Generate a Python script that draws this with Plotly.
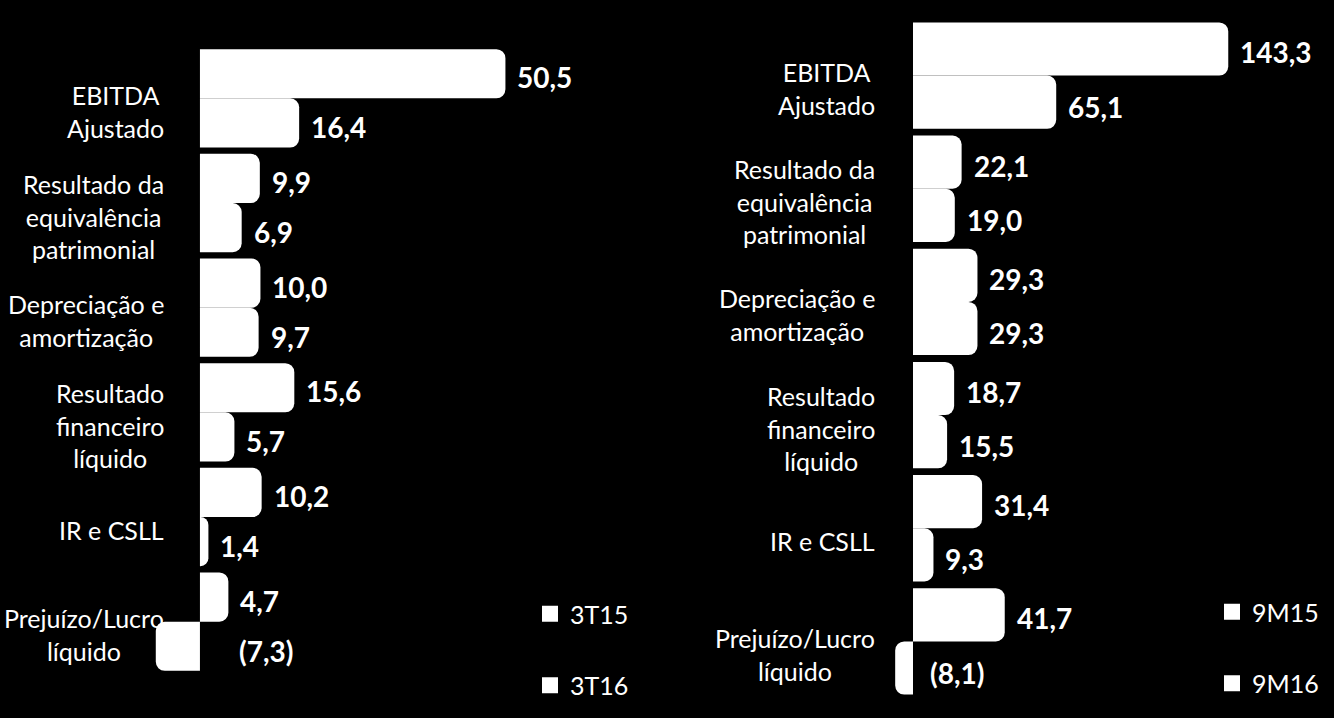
import plotly.graph_objects as go

# ---- data ----
categories_left = ["EBITDA<br>Ajustado", "Resultado da<br>equivalência<br>patrimonial",
                   "Depreciação e<br>amortização", "Resultado<br>financeiro<br>líquido",
                   "IR e CSLL", "Prejuízo/Lucro<br>líquido"]
categories_right = categories_left
cat_ids = ["EBITDA", "REP", "DA", "RF", "IR", "PL"]

series_left_names = ["3T15", "3T16"]
left_3t15 = [50.5, 9.9, 10.0, 15.6, 10.2, 4.7]
left_3t16 = [16.4, 6.9, 9.7, 5.7, 1.4, -7.3]

series_right_names = ["9M15", "9M16"]
right_9m15 = [143.3, 22.1, 29.3, 18.7, 31.4, 41.7]
right_9m16 = [65.1, 19.0, 29.3, 15.5, 9.3, -8.1]

W, H = 1334, 718
FONT = "Lato"


def fmt(v):
    s = f"{abs(v):.1f}".replace(".", ",")
    return f"({s})" if v < 0 else s


def px_x(p):
    return p / W


def px_y(p):
    return (H - p) / H


fig = go.Figure()

bar_style = dict(orientation="h", showlegend=False,
                 marker=dict(color="white", cornerradius=9, line=dict(width=0)))

fig.add_trace(go.Bar(x=left_3t15, y=cat_ids, name=series_left_names[0], xaxis="x", yaxis="y", **bar_style))
fig.add_trace(go.Bar(x=left_3t16, y=cat_ids, name=series_left_names[1], xaxis="x", yaxis="y", **bar_style))
fig.add_trace(go.Bar(x=right_9m15, y=cat_ids, name=series_right_names[0], xaxis="x2", yaxis="y2", **bar_style))
fig.add_trace(go.Bar(x=right_9m16, y=cat_ids, name=series_right_names[1], xaxis="x2", yaxis="y2", **bar_style))

# legend entries (square white markers)
for name, lg, grp, xa, ya in [(series_left_names[0], "legend", "a", "x", "y"),
                              (series_left_names[1], "legend", "b", "x", "y"),
                              (series_right_names[0], "legend2", "c", "x2", "y2"),
                              (series_right_names[1], "legend2", "d", "x2", "y2")]:
    fig.add_trace(go.Scatter(x=[None], y=[None], mode="markers", name=name, legend=lg, legendgroup=grp,
                             xaxis=xa, yaxis=ya, showlegend=True,
                             marker=dict(symbol="square", size=16, color="white", line=dict(width=0))))

annotations = []
# value labels
for xref, yref, s1, s2, negshift in [("x", "y", left_3t15, left_3t16, 37),
                                     ("x2", "y2", right_9m15, right_9m16, 15)]:
    for i, c in enumerate(cat_ids):
        for v, off in [(s1[i], -0.24), (s2[i], 0.24)]:
            annotations.append(dict(
                x=max(v, 0), y=i + off, xref=xref, yref=yref, text=fmt(v),
                xanchor="left", yanchor="middle", xshift=10 if v >= 0 else negshift, yshift=-4,
                showarrow=False, font=dict(family=FONT, size=28, color="white", weight="bold")))

# category labels
for yref, xpix, labels in [("y", 166, categories_left), ("y2", 877, categories_right)]:
    for i, lab in enumerate(labels):
        annotations.append(dict(
            x=px_x(xpix), y=i, xref="paper", yref=yref, text=lab, xanchor="right",
            yanchor="middle", align="center", yshift=-13, showarrow=False,
            font=dict(family=FONT, size=25, color="white")))

axis_common = dict(showgrid=False, zeroline=False, showticklabels=False, showline=False, ticks="")

fig.update_layout(
    width=W, height=H,
    paper_bgcolor="black", plot_bgcolor="black",
    margin=dict(l=0, r=0, t=0, b=0),
    barmode="group", bargap=0.06, bargroupgap=0.0,
    xaxis=dict(domain=[px_x(145.5), px_x(575.0)], range=[-9, 62], anchor="y", **axis_common),
    yaxis=dict(domain=[px_y(674), px_y(46)], range=[5.5, -0.5], anchor="x",
               type="category", categoryorder="array", categoryarray=cat_ids, **axis_common),
    xaxis2=dict(domain=[px_x(886.6), px_x(1298.0)], range=[-12, 175], anchor="y2", **axis_common),
    yaxis2=dict(domain=[px_y(698), px_y(19)], range=[5.5, -0.5], anchor="x2",
                type="category", categoryorder="array", categoryarray=cat_ids, **axis_common),
    legend=dict(x=px_x(530), y=px_y(591), xanchor="left", yanchor="top",
                font=dict(family=FONT, size=25, color="white"), bgcolor="rgba(0,0,0,0)",
                tracegroupgap=36, traceorder="grouped", itemsizing="trace"),
    legend2=dict(x=px_x(1212), y=px_y(589), xanchor="left", yanchor="top",
                 font=dict(family=FONT, size=25, color="white"), bgcolor="rgba(0,0,0,0)",
                 tracegroupgap=36, traceorder="grouped", itemsizing="trace"),
    annotations=annotations,
    showlegend=True,
)

fig.write_html("out.html")
